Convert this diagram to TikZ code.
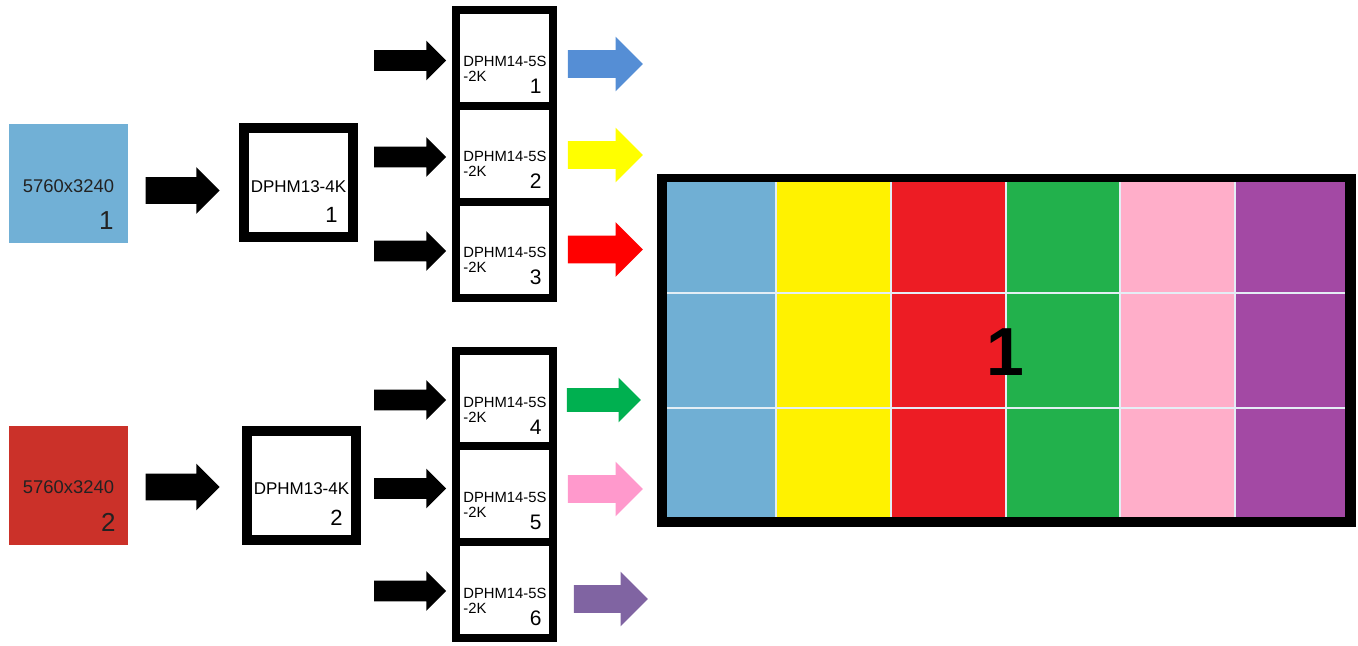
\documentclass[tikz,border=0pt]{standalone}
\usepackage{fontspec}
\setmainfont{Liberation Sans}
\usetikzlibrary{shapes.arrows,calc}
\definecolor{srcblue}{HTML}{71B0D6}
\definecolor{srcred}{HTML}{CB3129}
\definecolor{outblue}{HTML}{558ED5}
\definecolor{outyellow}{HTML}{FFFF00}
\definecolor{outred}{HTML}{FF0000}
\definecolor{outgreen}{HTML}{00B050}
\definecolor{outpink}{HTML}{FF99CC}
\definecolor{outpurple}{HTML}{8064A2}
\definecolor{cblue}{HTML}{70AFD4}
\definecolor{cyellow}{HTML}{FFF200}
\definecolor{cred}{HTML}{ED1C24}
\definecolor{cgreen}{HTML}{22B14C}
\definecolor{cpink}{HTML}{FFAEC9}
\definecolor{cpurple}{HTML}{A349A4}
\definecolor{gridline}{HTML}{E4EEF5}
\definecolor{srctext}{HTML}{222222}
\begin{document}
\begin{tikzpicture}[x=0.5pt,y=-0.5pt,
  barrow/.style n args={3}{single arrow, draw=none, inner xsep=0pt, inner ysep=#2, outer sep=0pt,
    single arrow tip angle=90, minimum height=#1, single arrow head extend=#3},
  srcbox/.style={draw=none, minimum size=59.5pt, inner sep=0pt},
  midbox/.style={draw=black, line width=5pt, fill=white, minimum size=54.5pt, inner sep=0pt},
  outbox/.style={draw=black, line width=4pt, fill=white, minimum width=48.5pt, minimum height=48pt, inner sep=0pt},
  srclabel/.style={inner sep=0pt, text=srctext, font=\fontsize{9.2}{9.2}\selectfont},
  srcnum/.style={inner sep=0pt, text=srctext, font=\fontsize{13}{13}\selectfont},
  midlabel/.style={inner sep=0pt, font=\fontsize{8.5}{8.5}\selectfont},
  midnum/.style={inner sep=0pt, font=\fontsize{11}{11}\selectfont},
  outlabel/.style={inner sep=0pt, font=\fontsize{7.4}{7.4}\selectfont},
  outnum/.style={inner sep=0pt, font=\fontsize{10.5}{10.5}\selectfont}
]
\useasboundingbox (0,0) rectangle (1358,645);

% sources
\node[srcbox, fill=srcblue] (s1) at (68.5,183.5) {};
\node[srclabel, anchor=base] (s1t) at ($(s1.center)+(0,8.5)$) {5760x3240};
\node[srcnum, anchor=base east] (s1n) at ($(s1.center)+(45.5,45.5)$) {1};
\node[srcbox, fill=srcred] (s2) at (68.5,485) {};
\node[srclabel, anchor=base] (s2t) at ($(s2.center)+(0,8)$) {5760x3240};
\node[srcnum, anchor=base east] (s2n) at ($(s2.center)+(47.5,46)$) {2};

% source arrows
\node[barrow={37pt}{6.5pt}{5pt}, fill=black] (a1) at (176,190.5) {};
\node[barrow={37pt}{6.5pt}{5pt}, fill=black] (a2) at (176,487) {};

% DPHM13 boxes
\node[midbox] (m1) at (298.5,182.5) {};
\node[midlabel, anchor=base] (m1t) at ($(m1.center)+(0,9.5)$) {DPHM13-4K};
\node[midnum, anchor=base east] (m1n) at ($(m1.center)+(39.5,39.5)$) {1};
\node[midbox] (m2) at (301.5,485.7) {};
\node[midlabel, anchor=base] (m2t) at ($(m2.center)+(0,8.5)$) {DPHM13-4K};
\node[midnum, anchor=base east] (m2n) at ($(m2.center)+(41.5,39.3)$) {2};

% arrows into DPHM14
\foreach \i/\y in {1/60.5,2/157,3/251,4/400,5/488.5,6/591}{
  \node[barrow={36pt}{5pt}{4.75pt}, fill=black] (b\i) at (405,\y) {};
}

% DPHM14 boxes
\foreach \i/\y in {1/58,2/153.5,3/249.5,4/399,5/494,6/590}{
  \node[outbox] (d\i) at (504.5,\y) {};
}
\foreach \i in {1,...,6}{
  \node[outlabel, anchor=base west] (d\i t1) at ($(d\i.center)+(-41.5,8)$) {DPHM14-5S};
  \node[outlabel, anchor=base west] (d\i t2) at ($(d\i.center)+(-41.5,23)$) {-2K};
  \node[outnum, anchor=base east] (d\i n) at ($(d\i.center)+(37.5,35)$) {\i};
}

% coloured output arrows
\node[barrow={37.5pt}{6.75pt}{6.75pt}, fill=outblue] (c1) at (598.5,64) {};
\node[barrow={37.5pt}{6.75pt}{6.75pt}, fill=outyellow] (c2) at (598.5,155) {};
\node[barrow={37.5pt}{6.75pt}{6.75pt}, fill=outred] (c3) at (598.5,249.5) {};
\node[barrow={37pt}{5.75pt}{5.25pt}, fill=outgreen] (c4) at (598,400) {};
\node[barrow={37.5pt}{6.75pt}{6.75pt}, fill=outpink] (c5) at (598.5,489) {};
\node[barrow={37pt}{6.75pt}{6.75pt}, fill=outpurple] (c6) at (604,599) {};

% video wall
\fill[black] (657,174) rectangle (1356,527);
\foreach \xa/\xb/\col in {667/776/cblue,776/891/cyellow,891/1006/cred,1006/1120/cgreen,1120/1235/cpink,1235/1345/cpurple}{
  \fill[\col] (\xa,182) rectangle (\xb,517);
}
\foreach \xx in {776,891,1006,1120,1235}{
  \draw[gridline, line width=1pt] (\xx,182) -- (\xx,517);
}
\foreach \yy in {292.5,408}{
  \draw[gridline, line width=1pt] (667,\yy) -- (1345,\yy);
}
\node[inner sep=0pt, font=\fontsize{34}{34}\selectfont\bfseries] (wall) at (1005,352) {1};
\end{tikzpicture}
\end{document}
